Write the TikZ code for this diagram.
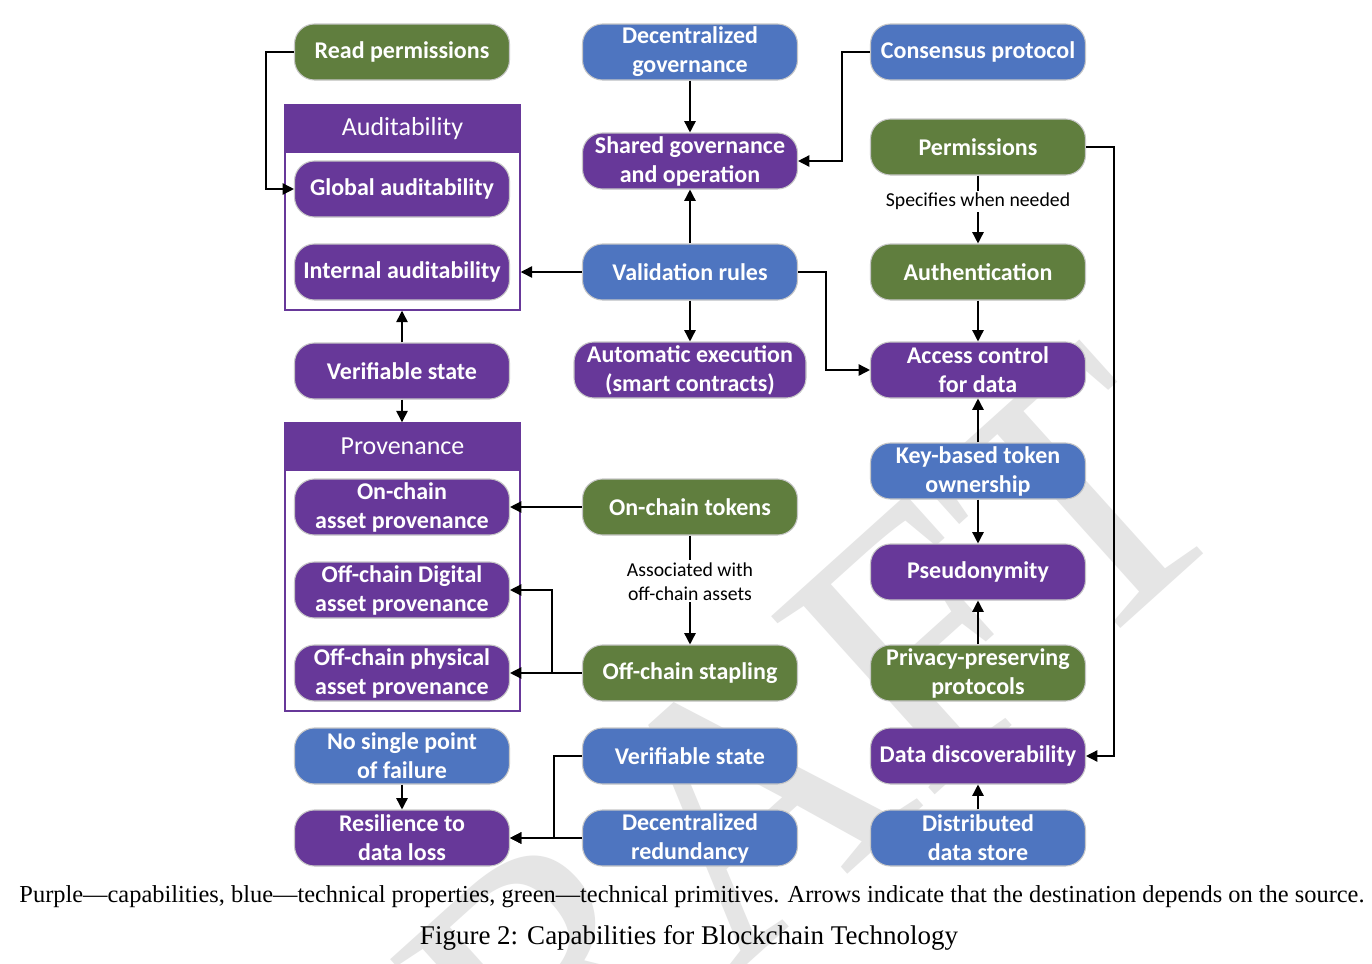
\documentclass[tikz,border=0pt]{standalone}
\usepackage{fontspec}
\setmainfont{Carlito}
\newfontfamily\capfont{Liberation Serif}
\usetikzlibrary{arrows.meta,calc}
\definecolor{purp}{HTML}{673899}
\definecolor{blu}{HTML}{4E75C0}
\definecolor{grn}{HTML}{607E3E}
\tikzset{
  box/.style={rounded corners=15pt, minimum width=161.25pt, minimum height=42pt,
    draw=black!22, line width=0.8pt, text=white, align=center, inner sep=0pt,
    font=\bfseries\fontsize{18}{21.75}\selectfont},
  pbox/.style={box, fill=purp},
  bbox/.style={box, fill=blu},
  gbox/.style={box, fill=grn},
  frame/.style={draw=purp, line width=1.1pt, minimum width=176.25pt, inner sep=0pt},
  head/.style={fill=purp, draw=purp, line width=1.1pt, minimum width=176.25pt, minimum height=35.25pt,
    inner sep=0pt, text=white, font=\fontsize{19.5}{22}\selectfont},
  arr/.style={-{Triangle[length=8.5pt,width=8.5pt]}, line width=1.1pt, black},
  lbl/.style={fill=white, inner sep=1.5pt, align=center, text=black,
    font=\fontsize{14.8}{18}\selectfont},
}
\begin{document}
\begin{tikzpicture}[x=0.75pt, y=-0.75pt]
\useasboundingbox (0,0) rectangle (1372,964);
\fill[white] (0,0) rectangle (1372,964);
% watermark
\node[rotate=42, text=black!10, inner sep=0pt, font=\capfont\fontsize{277}{277}\selectfont] (wm) at (715,830) {DRAFT};

% containers
\node[frame, minimum height=153.75pt] (aud) at (402.5,207.5) {};
\node[head] (audh) at (402.5,128.5) {Auditability};
\node[frame, minimum height=216pt] (prov) at (402.5,567) {};
\node[head] (provh) at (402.5,446.5) {Provenance};

% left column
\node[gbox] (rp) at (402,52) {Read permissions};
\node[pbox] (ga) at (402,189) {Global auditability};
\node[pbox] (ia) at (402,272) {Internal auditability};
\node[pbox] (vsp) at (402,371) {Verifiable state};
\node[pbox] (oap) at (402,507) {On-chain\\asset provenance};
\node[pbox] (odig) at (402,590) {Off-chain Digital\\asset provenance};
\node[pbox] (ophy) at (402,673) {Off-chain physical\\asset provenance};
\node[bbox] (nsp) at (402,756) {No single point\\of failure};
\node[pbox] (res) at (402,838) {Resilience to\\data loss};

% middle column
\node[bbox] (dg) at (690,52) {Decentralized\\governance};
\node[pbox] (sg) at (690,161) {Shared governance\\and operation};
\node[bbox] (vr) at (690,272) {Validation rules};
\node[pbox, minimum width=174pt] (ae) at (690,370) {Automatic execution\\(smart contracts)};
\node[gbox] (ot) at (690,507) {On-chain tokens};
\node[gbox] (os) at (690,673) {Off-chain stapling};
\node[bbox] (vsb) at (690,756) {Verifiable state};
\node[bbox] (dr) at (690,838) {Decentralized\\redundancy};

% right column
\node[bbox] (cp) at (978,52) {Consensus protocol};
\node[gbox] (perm) at (978,147) {Permissions};
\node[gbox] (auth) at (978,272) {Authentication};
\node[pbox] (ac) at (978,370) {Access control\\for data};
\node[bbox] (kb) at (978,471) {Key-based token\\ownership};
\node[pbox] (ps) at (978,572) {Pseudonymity};
\node[gbox] (pp) at (978,673) {Privacy-preserving\\protocols};
\node[pbox] (dd) at (978,756) {Data discoverability};
\node[bbox] (ds) at (978,838) {Distributed\\data store};

% connectors
\draw[arr] (rp.west) -- ++(-28,0) |- (ga.west);
\draw[arr] (dg) -- (sg);
\draw[arr] (cp.west) -- ++(-28,0) |- (sg.east);
\draw[arr] (vr) -- (sg);
\draw[arr] (vr.west) -- (ia.east -| aud.east);
\draw[arr] (vr) -- (ae);
\draw[arr] (vr.east) -- ++(28,0) |- (ac.west);
\draw[arr] (perm) -- node[lbl, pos=0.38] {Specifies when needed} (auth);
\draw[arr] (perm.east) -- ++(28,0) |- (dd.east);
\draw[arr] (auth) -- (ac);
\draw[arr] (kb) -- (ac);
\draw[arr] (kb) -- (ps);
\draw[arr] (pp) -- (ps);
\draw[arr] (ds) -- (dd);
\draw[arr] (vsp.north) -- (vsp.north |- aud.south);
\draw[arr] (vsp.south) -- (vsp.south |- prov.north);
\draw[arr] (ot.west) -- (oap.east);
\draw[arr] (ot) -- node[lbl, pos=0.42] {Associated with\\off-chain assets} (os);
\draw[arr] (os.west) -- (ophy.east);
\draw[arr] (os.west) -- ++(-30,0) |- (odig.east);
\draw[arr] (nsp) -- (res);
\draw[arr] (vsb.west) -- ++(-28,0) |- (res.east);
\draw[arr] (dr.west) -- (res.east);

% caption
\node[inner sep=0pt, font=\capfont\fontsize{20}{24}\selectfont] (cap1) at (692,897)
  {\resizebox{1008.75pt}{!}{Purple—capabilities, blue—technical properties, green—technical primitives. Arrows indicate that the destination depends on the source.}};
\node[inner sep=0pt, font=\capfont\fontsize{20}{24}\selectfont] (cap2) at (689,938)
  {\resizebox{403.5pt}{!}{Figure 2: Capabilities for Blockchain Technology}};
\end{tikzpicture}
\end{document}
